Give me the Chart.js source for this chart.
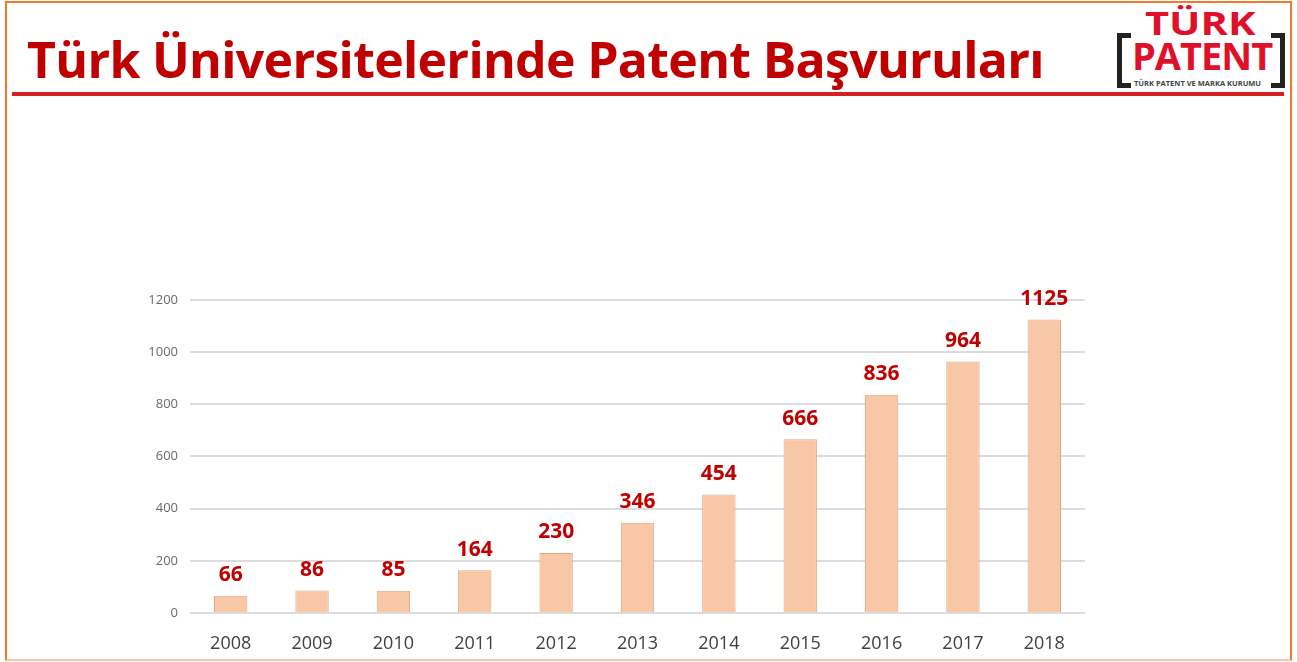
<!DOCTYPE html>
<html>
<head>
<meta charset="utf-8">
<script src="https://cdn.jsdelivr.net/npm/chart.js@4.4.1/dist/chart.umd.min.js"></script>
<style>
  html, body { margin: 0; padding: 0; background: #fff; }
  body { width: 1297px; height: 662px; position: relative; overflow: hidden; font-family: "Open Sans", sans-serif; }
  .frame { position: absolute; left: 5px; top: 1px; width: 1283px; height: 656px; border: 2px solid #f07a2a; border-bottom-color: #f6c6a6; }
  .title { position: absolute; left: 27px; top: 34px; font-weight: bold; font-size: 50px; line-height: 50px; color: #c00000; letter-spacing: -0.7px; white-space: nowrap; }
  .rule { position: absolute; left: 12px; top: 92px; width: 1272px; height: 4px; background: #d42020; }
  .logo div { position: absolute; white-space: nowrap; }
  .logo .l1 { left: 1145px; top: 7px; font-weight: bold; font-size: 32px; line-height: 32px; color: #e0102a; transform: scaleX(1.3); transform-origin: left top; }
  .logo .l2 { left: 1132px; top: 36px; font-weight: bold; font-size: 38px; line-height: 38px; color: #e0102a; letter-spacing: -1px; }
  .logo .br { top: 33px; width: 14px; height: 55px; box-sizing: border-box; border: 5px solid #222; }
  .logo .bl { left: 1117px; border-right: none; }
  .logo .brr { left: 1271px; border-left: none; }
  .logo .sub { left: 1134px; top: 79px; font-size: 7.5px; line-height: 8px; color: #444; font-weight: bold; }
  .chart-box { position: absolute; left: 120px; top: 280px; width: 980px; height: 382px; }
</style>
</head>
<body>
<div class="frame"></div>
<div class="title">Türk Üniversitelerinde Patent Başvuruları</div>
<div class="rule"></div>
<div class="logo">
  <div class="l1">TÜRK</div>
  <div class="l2">PATENT</div>
  <div class="br bl"></div>
  <div class="br brr"></div>
  <div class="sub">TÜRK PATENT VE MARKA KURUMU</div>
</div>
<div class="chart-box"><canvas id="chart"></canvas></div>
<script>
const years = ["2008", "2009", "2010", "2011", "2012", "2013", "2014", "2015", "2016", "2017", "2018"];
const applications = [66, 86, 85, 164, 230, 346, 454, 666, 836, 964, 1125];
const yTicks = [0, 200, 400, 600, 800, 1000, 1200];

// draws the value above each bar
const valueLabels = {
  id: "valueLabels",
  afterDatasetsDraw(chart) {
    const ctx = chart.ctx;
    const meta = chart.getDatasetMeta(0);
    ctx.save();
    ctx.font = "bold 21px 'Open Sans', sans-serif";
    ctx.fillStyle = "#c00000";
    ctx.textAlign = "center";
    ctx.textBaseline = "bottom";
    meta.data.forEach((bar, i) => {
      ctx.fillText(applications[i], bar.x, bar.y - 10);
    });
    ctx.restore();
  },
};

const ctx = document.getElementById("chart").getContext("2d");
new Chart(ctx, {
  type: "bar",
  data: {
    labels: years,
    datasets: [
      {
        data: applications,
        backgroundColor: "#f8c8a6",
        borderColor: "#e2a886",
        borderWidth: 1,
        barPercentage: 0.41,
        categoryPercentage: 1,
      },
    ],
  },
  options: {
    responsive: true,
    maintainAspectRatio: false,
    animation: false,
    layout: { padding: { top: 17, right: 15, bottom: 5, left: 0 } },
    plugins: {
      legend: { display: false },
      tooltip: { enabled: false },
    },
    scales: {
      x: {
        grid: { display: false },
        border: { display: false },
        ticks: { color: "#404040", font: { size: 18, family: "'Open Sans', sans-serif" }, padding: 12 },
        afterFit: (scale) => { scale.height = 44; },
      },
      y: {
        min: 0,
        max: 1200,
        afterBuildTicks: (scale) => { scale.ticks = yTicks.map((v) => ({ value: v })); },
        grid: { color: "#dcdcdc", lineWidth: 2, drawTicks: false },
        border: { display: false },
        ticks: {
          color: "#6a6a6a",
          font: { size: 13, family: "'Open Sans', sans-serif" },
          padding: 12,
          callback: (v) => String(v),
        },
        afterFit: (scale) => { scale.width = 70; },
      },
    },
  },
  plugins: [valueLabels],
});
</script>
</body>
</html>
